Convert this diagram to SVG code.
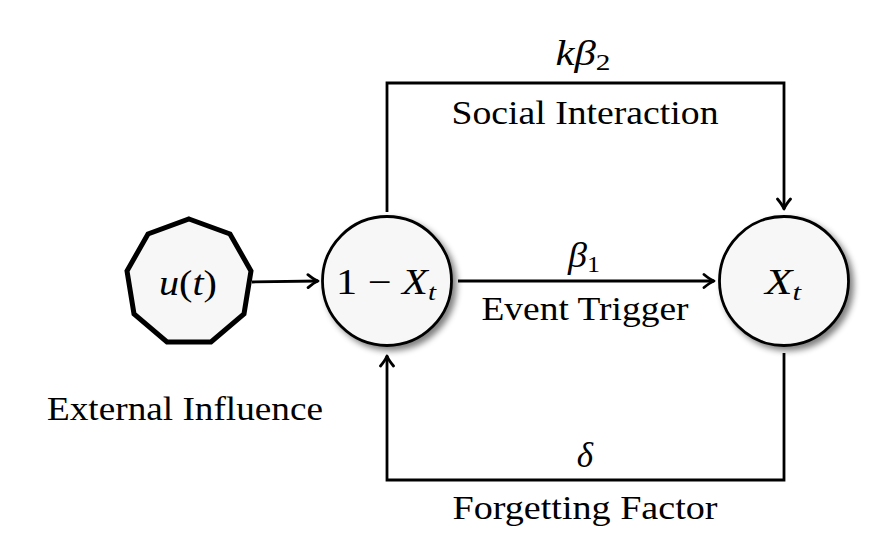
<svg xmlns="http://www.w3.org/2000/svg" width="894" height="544" viewBox="0 0 894 544">
<defs>
<filter id="sh" x="-30%" y="-30%" width="170%" height="170%">
<feGaussianBlur in="SourceAlpha" stdDeviation="3"/>
<feOffset dx="4" dy="4" result="b"/>
<feComponentTransfer><feFuncA type="linear" slope="0.5"/></feComponentTransfer>
<feMerge><feMergeNode/><feMergeNode in="SourceGraphic"/></feMerge>
</filter>
<marker id="arr" viewBox="-12 -8 14 16" markerWidth="14" markerHeight="16" refX="0" refY="0" orient="auto" markerUnits="userSpaceOnUse">
<path d="M-10,-6.5 Q-4,-1.5 0,0 Q-4,1.5 -10,6.5" fill="none" stroke="#000" stroke-width="2.8" stroke-linecap="round" stroke-linejoin="round"/>
</marker>
</defs>
<style>
.t{font-family:"Liberation Serif","DejaVu Serif",serif;font-size:34px;fill:#000}
.m{font-family:"Liberation Serif","DejaVu Serif",serif;font-size:35px;font-style:italic;fill:#000}
.s{font-size:24px;font-style:normal}
.si{font-size:24px;font-style:italic}
.e{fill:none;stroke:#000;stroke-width:2.8}
.n{fill:#f7f7f7;stroke:#000;stroke-width:2.8}
</style>
<rect width="894" height="544" fill="#fff"/>
<g id="connectors">
<line class="e" x1="252" y1="282" x2="318" y2="281" marker-end="url(#arr)"/>
<line class="e" x1="458" y1="281" x2="714" y2="281" marker-end="url(#arr)"/>
<polyline class="e" points="387,212 387,83 784,83 784,209" marker-end="url(#arr)"/>
<polyline class="e" points="784,353 784,480 387,480 387,356" marker-end="url(#arr)"/>
</g>
<g id="labels">
<text class="m" x="583" y="65" text-anchor="middle" textLength="55" lengthAdjust="spacingAndGlyphs">kβ<tspan class="s" dy="5">2</tspan></text>
<text class="t" x="585" y="124" text-anchor="middle" textLength="267" lengthAdjust="spacingAndGlyphs">Social Interaction</text>
<text class="m" x="584" y="267" text-anchor="middle" textLength="32" lengthAdjust="spacingAndGlyphs">β<tspan class="s" dy="5">1</tspan></text>
<text class="t" x="585" y="320" text-anchor="middle" textLength="207" lengthAdjust="spacingAndGlyphs">Event Trigger</text>
<text class="m" x="585" y="467" text-anchor="middle">δ</text>
<text class="t" x="585" y="519" text-anchor="middle" textLength="265" lengthAdjust="spacingAndGlyphs">Forgetting Factor</text>
<text class="t" x="185" y="420" text-anchor="middle" textLength="276" lengthAdjust="spacingAndGlyphs">External Influence</text>
</g>
<g id="node-u">
<polygon class="n" style="stroke-width:5" points="189,219 230,234 251,271 244,314 211,342 167,342 134,314 127,271 148,234"/>
<text class="m" x="188" y="295" text-anchor="middle" textLength="58" lengthAdjust="spacingAndGlyphs">u<tspan font-style="normal">(</tspan>t<tspan font-style="normal">)</tspan></text>
</g>
<g id="node-notX">
<circle class="n" cx="387" cy="281" r="64.5" filter="url(#sh)"/>
<text class="m" x="386" y="294" text-anchor="middle" textLength="100" lengthAdjust="spacingAndGlyphs"><tspan font-style="normal">1 − </tspan>X<tspan class="si" dy="6">t</tspan></text>
</g>
<g id="node-X">
<circle class="n" cx="784" cy="281" r="64.5" filter="url(#sh)"/>
<text class="m" x="783" y="294" text-anchor="middle" textLength="36" lengthAdjust="spacingAndGlyphs">X<tspan class="si" dy="6">t</tspan></text>
</g>
</svg>
